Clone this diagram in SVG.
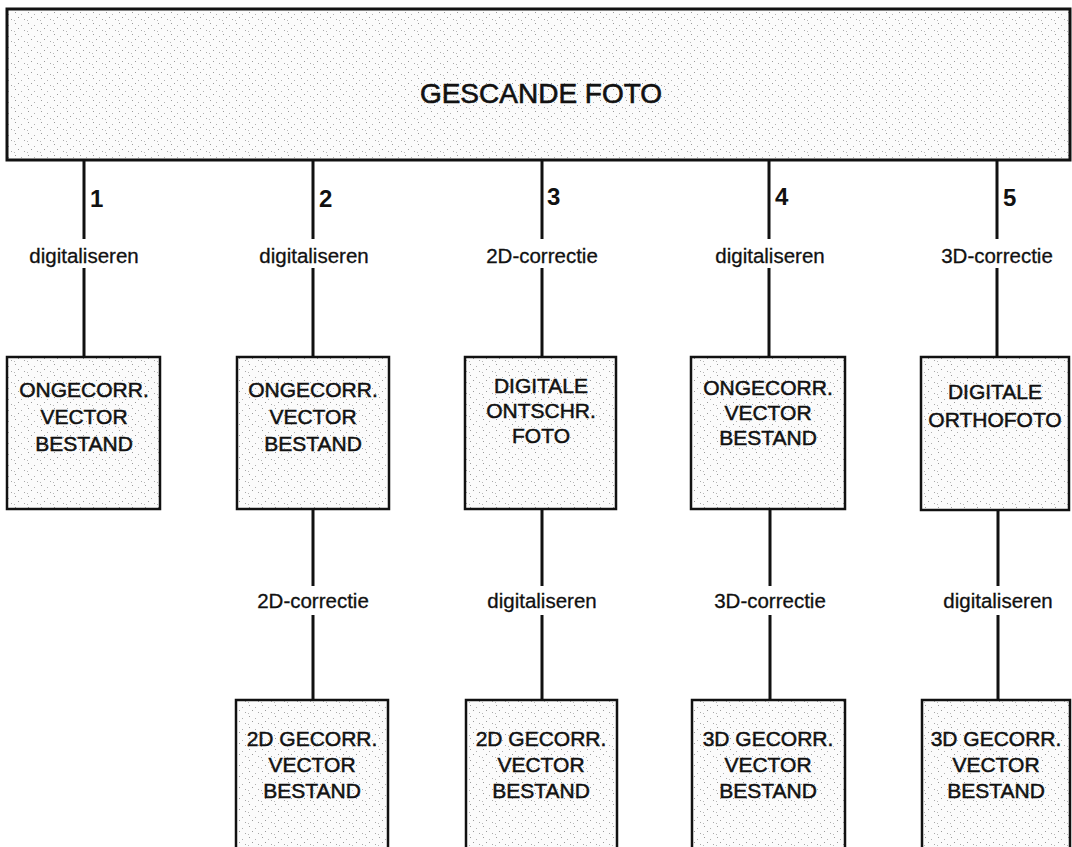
<svg xmlns="http://www.w3.org/2000/svg" width="1072" height="847" viewBox="0 0 1072 847">
  <defs>
    <pattern id="stip" width="13" height="11" patternUnits="userSpaceOnUse">
      <rect width="13" height="11" fill="#fbfbfb"/>
      <rect x="2" y="1" width="1" height="1" fill="#9a9a9a"/>
      <rect x="8" y="3" width="1" height="1" fill="#b0b0b0"/>
      <rect x="5" y="6" width="1" height="1" fill="#9a9a9a"/>
      <rect x="11" y="8" width="1" height="1" fill="#a8a8a8"/>
      <rect x="1" y="9" width="1" height="1" fill="#b8b8b8"/>
    </pattern>
  </defs>
  <style>
    .box { fill: url(#stip); stroke: #111; stroke-width: 2.5; }
    .conn { stroke: #111; stroke-width: 3; fill: none; }
    .title { font-family: "Liberation Sans", Arial, sans-serif; font-size: 28px; fill: #111; stroke: #111; stroke-width: 0.6; text-anchor: middle; }
    .bt { font-family: "Liberation Sans", Arial, sans-serif; font-size: 21px; fill: #111; stroke: #111; stroke-width: 0.5; text-anchor: middle; }
    .lbl { font-family: "Liberation Sans", Arial, sans-serif; font-size: 20.5px; fill: #111; stroke: #111; stroke-width: 0.3; text-anchor: middle; }
    .num { font-family: "Liberation Sans", Arial, sans-serif; font-size: 24px; font-weight: bold; fill: #111; }
  </style>
  <rect width="1072" height="847" fill="#ffffff"/>

  <g id="connectors">
    <!-- top to row 1 -->
    <path class="conn" d="M84 160 V239 M84 268 V357"/>
    <path class="conn" d="M313 160 V239 M313 268 V357"/>
    <path class="conn" d="M542 160 V239 M542 268 V357"/>
    <path class="conn" d="M769 160 V239 M769 268 V357"/>
    <path class="conn" d="M997 160 V239 M997 268 V357"/>
    <!-- row 1 to row 2 -->
    <path class="conn" d="M313 509 V586 M313 615 V700"/>
    <path class="conn" d="M542 509 V586 M542 615 V700"/>
    <path class="conn" d="M770 509 V586 M770 615 V700"/>
    <path class="conn" d="M998 509 V586 M998 615 V700"/>

    <text class="num" x="90" y="207">1</text>
    <text class="num" x="319" y="207">2</text>
    <text class="num" x="547" y="205">3</text>
    <text class="num" x="775" y="205">4</text>
    <text class="num" x="1003" y="206">5</text>

    <text class="lbl" x="84" y="263">digitaliseren</text>
    <text class="lbl" x="314" y="263">digitaliseren</text>
    <text class="lbl" x="542" y="263">2D-correctie</text>
    <text class="lbl" x="770" y="263">digitaliseren</text>
    <text class="lbl" x="997" y="263">3D-correctie</text>

    <text class="lbl" x="313" y="608">2D-correctie</text>
    <text class="lbl" x="542" y="608">digitaliseren</text>
    <text class="lbl" x="770" y="608">3D-correctie</text>
    <text class="lbl" x="998" y="608">digitaliseren</text>
  </g>

  <g id="gescande-foto">
    <rect class="box" x="7" y="9" width="1063" height="151" style="stroke-width:3"/>
    <text class="title" x="541" y="103">GESCANDE FOTO</text>
  </g>

  <g id="n1-ongecorr">
    <rect class="box" x="7" y="357" width="153" height="152"/>
    <text class="bt" x="84" y="397">ONGECORR.</text>
    <text class="bt" x="84" y="424">VECTOR</text>
    <text class="bt" x="84" y="451">BESTAND</text>
  </g>
  <g id="n2-ongecorr">
    <rect class="box" x="237" y="357" width="152" height="152"/>
    <text class="bt" x="313" y="397">ONGECORR.</text>
    <text class="bt" x="313" y="424">VECTOR</text>
    <text class="bt" x="313" y="451">BESTAND</text>
  </g>
  <g id="n3-ontschr">
    <rect class="box" x="465" y="357" width="151" height="152"/>
    <text class="bt" x="541" y="393">DIGITALE</text>
    <text class="bt" x="541" y="418">ONTSCHR.</text>
    <text class="bt" x="541" y="443">FOTO</text>
  </g>
  <g id="n4-ongecorr">
    <rect class="box" x="691" y="357" width="154" height="152"/>
    <text class="bt" x="768" y="395">ONGECORR.</text>
    <text class="bt" x="768" y="420">VECTOR</text>
    <text class="bt" x="768" y="445">BESTAND</text>
  </g>
  <g id="n5-ortho">
    <rect class="box" x="921" y="357" width="148" height="153"/>
    <text class="bt" x="995" y="399">DIGITALE</text>
    <text class="bt" x="995" y="427">ORTHOFOTO</text>
  </g>

  <g id="n2-2d">
    <rect class="box" x="236" y="700" width="152" height="160"/>
    <text class="bt" x="312" y="746">2D GECORR.</text>
    <text class="bt" x="312" y="772">VECTOR</text>
    <text class="bt" x="312" y="798">BESTAND</text>
  </g>
  <g id="n3-2d">
    <rect class="box" x="466" y="700" width="151" height="160"/>
    <text class="bt" x="541" y="746">2D GECORR.</text>
    <text class="bt" x="541" y="772">VECTOR</text>
    <text class="bt" x="541" y="798">BESTAND</text>
  </g>
  <g id="n4-3d">
    <rect class="box" x="692" y="700" width="153" height="160"/>
    <text class="bt" x="768" y="746">3D GECORR.</text>
    <text class="bt" x="768" y="772">VECTOR</text>
    <text class="bt" x="768" y="798">BESTAND</text>
  </g>
  <g id="n5-3d">
    <rect class="box" x="922" y="700" width="148" height="160"/>
    <text class="bt" x="996" y="746">3D GECORR.</text>
    <text class="bt" x="996" y="772">VECTOR</text>
    <text class="bt" x="996" y="798">BESTAND</text>
  </g>
</svg>
